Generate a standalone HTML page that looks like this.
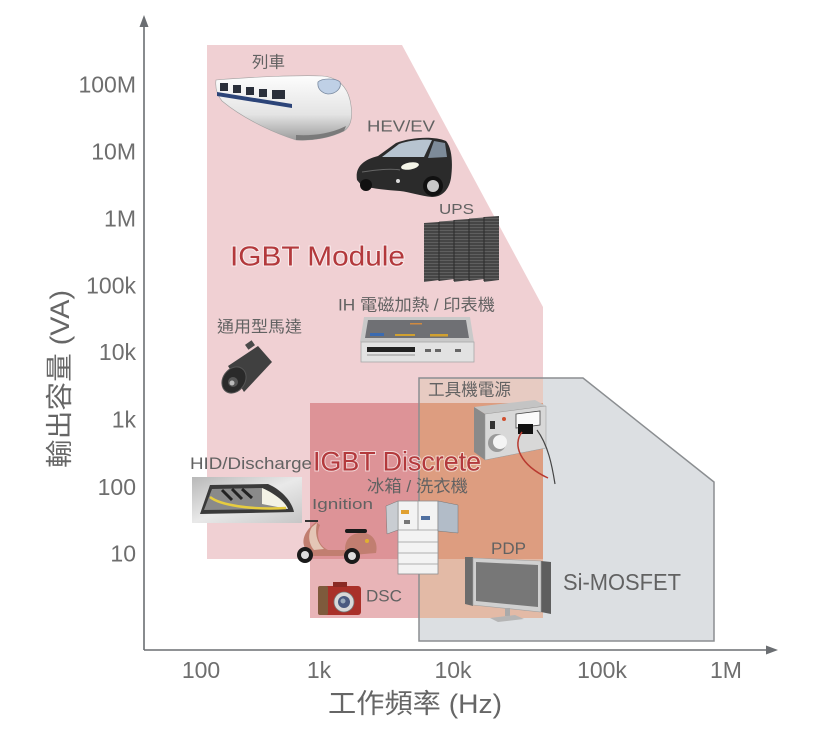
<!DOCTYPE html>
<html><head><meta charset="utf-8">
<style>html,body{margin:0;padding:0;background:#fff;width:813px;height:736px;overflow:hidden}</style>
</head><body>
<svg width="813" height="736" viewBox="0 0 813 736" xmlns="http://www.w3.org/2000/svg" font-family="'Liberation Sans','Noto Sans CJK TC',sans-serif">
<defs>
<linearGradient id="trainG" x1="0" y1="0" x2="0" y2="1"><stop offset="0" stop-color="#fdfdfd"/><stop offset="0.6" stop-color="#e4e4e4"/><stop offset="1" stop-color="#9c9c9c"/></linearGradient>
<linearGradient id="hidG" x1="0" y1="0" x2="1" y2="1"><stop offset="0" stop-color="#b8b8b8"/><stop offset="0.5" stop-color="#e9e9e9"/><stop offset="1" stop-color="#c6c6c6"/></linearGradient>
<pattern id="rack" width="4" height="3" patternUnits="userSpaceOnUse"><rect width="4" height="3" fill="#454545"/><rect y="2" width="4" height="1" fill="#5f5f5f"/></pattern>
</defs>

<!-- regions -->
<polygon points="419,378 583,378 714,482 714,641 419,641" fill="#dcdfe2"/>
<polygon points="207,45 402,45 543,307 543,559 207,559" fill="#f0d0d3"/>
<rect x="419" y="378" width="124" height="181" fill="#e7cbc2"/>
<rect x="310" y="403" width="109" height="156" fill="#dd9397"/>
<rect x="419" y="403" width="124" height="156" fill="#dd9d80"/>
<rect x="310" y="559" width="109" height="59" fill="#e8b4b7"/>
<rect x="419" y="559" width="124" height="59" fill="#e3baa6"/>
<polygon points="419,378 583,378 714,482 714,641 419,641" fill="none" stroke="#8b8e91" stroke-width="1.5"/>

<!-- axes -->
<line x1="144" y1="650" x2="144" y2="24" stroke="#6b6e72" stroke-width="1.6"/>
<polygon points="144,15 139.5,27 148.5,27" fill="#6b6e72"/>
<line x1="144" y1="650" x2="768" y2="650" stroke="#6b6e72" stroke-width="1.6"/>
<polygon points="778,650 766,645.5 766,654.5" fill="#6b6e72"/>

<!-- tick labels -->
<g font-size="23" fill="#6e6e6e" text-anchor="end">
<text x="136" y="92.5">100M</text>
<text x="136" y="159.5">10M</text>
<text x="136" y="226.5">1M</text>
<text x="136" y="293.5">100k</text>
<text x="136" y="360">10k</text>
<text x="136" y="427.5">1k</text>
<text x="136" y="495">100</text>
<text x="136" y="561.5">10</text>
</g>
<g font-size="23" fill="#6e6e6e" text-anchor="middle">
<text x="201" y="678">100</text>
<text x="319" y="678">1k</text>
<text x="453" y="678">10k</text>
<text x="602" y="678">100k</text>
<text x="726" y="678">1M</text>
</g>
<text x="328" y="713" font-size="27" fill="#666" textLength="174" lengthAdjust="spacingAndGlyphs">工作頻率 (Hz)</text>
<text transform="translate(69,379) rotate(-90)" x="-89" y="0" font-size="27" fill="#666" textLength="178" lengthAdjust="spacingAndGlyphs">輸出容量 (VA)</text>

<!-- train -->
<path d="M216,80 C250,77 300,75 322,76 C338,77 347,87 350,100 C353,114 352,126 344,131 C330,138 312,141 296,140 C268,131 240,116 222,101 C217,95 215,88 216,80 Z" fill="url(#trainG)" stroke="#a0a0a0" stroke-width="0.6"/>
<path d="M217,92 L292,104 L292,108 L217,96 Z" fill="#2c4478"/>
<rect x="220" y="83" width="8" height="8" fill="#2a2f3a"/>
<rect x="233" y="85" width="8" height="8" fill="#2a2f3a"/>
<rect x="246" y="87" width="8" height="8" fill="#2a2f3a"/>
<rect x="259" y="89" width="8" height="8" fill="#2a2f3a"/>
<rect x="272" y="90" width="13" height="9" fill="#2a2f3a"/>
<path d="M318,82 C322,78 336,78 340,82 C342,88 336,94 328,94 C321,93 317,88 318,82 Z" fill="#bfd0e6" stroke="#7a8aa0" stroke-width="0.8"/>
<path d="M296,140 C312,141 330,138 344,131 L346,126 C330,134 312,136 296,135 Z" fill="#7a7a7a"/>

<!-- car -->
<path d="M357,180 C355,168 362,160 378,156 L396,143 C412,137 434,136 446,141 C452,148 453,163 451,178 C449,190 442,197 432,197 C420,196 410,192 400,191 C385,190 370,188 362,186 Z" fill="#2b2b2b"/>
<path d="M382,157 L399,144 C410,140 425,139 432,140 L424,157 Z" fill="#b7c4d0"/>
<path d="M434,141 L445,143 L447,157 L428,158 Z" fill="#7d8b99"/>
<ellipse cx="410" cy="166" rx="9" ry="3.5" fill="#f5f5e8" transform="rotate(-10 410 166)"/>
<circle cx="398" cy="181" r="2" fill="#ddd"/>
<path d="M362,172 C375,170 390,168 400,170" stroke="#666" stroke-width="1" fill="none"/>
<circle cx="433" cy="186" r="10" fill="#111"/><circle cx="433" cy="186" r="6" fill="#c8c8c8"/>
<circle cx="366" cy="185" r="6" fill="#111"/>

<!-- UPS -->
<polygon points="424,223 439,222 439,280 424,282" fill="url(#rack)"/>
<polygon points="439,221.5 454,220.5 454,279 439,281" fill="url(#rack)"/>
<polygon points="454,220 469,219 469,280 454,282" fill="url(#rack)"/>
<polygon points="469,218.5 484,217.5 484,279 469,281" fill="url(#rack)"/>
<polygon points="484,217 499,216 499,280 484,282" fill="url(#rack)"/>
<g stroke="#2a2a2a" stroke-width="1"><line x1="439" y1="222" x2="439" y2="281"/><line x1="454" y1="220" x2="454" y2="281"/><line x1="469" y1="219" x2="469" y2="281"/><line x1="484" y1="217" x2="484" y2="281"/></g>

<!-- IH -->
<polygon points="364,317 470,317 474,342 360,342" fill="#c9c9c9"/>
<polygon points="368,320 466,320 469,338 365,338" fill="#6f7074"/>
<rect x="370" y="333" width="14" height="3" fill="#3a6ab0"/>
<rect x="395" y="334" width="20" height="2" fill="#d0a030"/>
<rect x="430" y="334" width="18" height="2.5" fill="#d0a030"/>
<rect x="410" y="323" width="12" height="1.5" fill="#d08a40"/>
<rect x="361" y="342" width="113" height="20" fill="#e2e2e2" stroke="#a8a8a8" stroke-width="0.8"/>
<rect x="367" y="347" width="48" height="5" fill="#222"/>
<rect x="367" y="354" width="48" height="2" fill="#bbb"/>
<rect x="425" y="349" width="6" height="3" fill="#666"/><rect x="435" y="349" width="6" height="3" fill="#666"/><rect x="455" y="349" width="6" height="3" fill="#666"/>

<!-- motor -->
<polygon points="228,366 258,346 272,362 244,392" fill="#404040"/>
<rect x="246" y="342" width="8" height="6" fill="#4a4a4a" transform="rotate(-35 250 345)"/>
<ellipse cx="234" cy="380" rx="11" ry="14" fill="#2a2a2a" stroke="#555" transform="rotate(35 234 380)"/>
<circle cx="233" cy="382" r="5" fill="#555"/>
<circle cx="232" cy="383" r="2.5" fill="#bbb"/>

<!-- power supply -->
<polygon points="474,407 535,400 546,406 485,414" fill="#c4c4c4"/>
<polygon points="474,407 485,414 485,460 474,452" fill="#8a8a8a"/>
<polygon points="485,414 546,406 546,448 485,460" fill="#d8d8d8" stroke="#999" stroke-width="0.5"/>
<polygon points="516,414 540,411 540,425 516,428" fill="#fafafa" stroke="#444" stroke-width="0.8"/>
<rect x="518" y="424" width="15" height="10" fill="#111"/>
<rect x="490" y="421" width="5" height="8" fill="#333"/>
<circle cx="504" cy="419" r="2" fill="#d05030"/>
<circle cx="497" cy="443" r="9" fill="#9a9a9a"/><circle cx="500" cy="442" r="7" fill="#f4f4f4"/>
<path d="M522,432 C512,445 520,465 548,478" stroke="#b83a30" stroke-width="1.5" fill="none"/>
<path d="M537,430 C548,445 552,465 555,484" stroke="#444" stroke-width="1.2" fill="none"/>

<!-- HID -->
<rect x="192" y="477" width="110" height="46" fill="url(#hidG)"/>
<path d="M200,514 L210,485 L268,484 C282,490 292,502 294,512 Z" fill="#3a3a3a"/>
<path d="M204,510 L212,489 L262,488 C276,494 286,503 288,509 Z" fill="#8a8a8a"/>
<path d="M262,488 C276,494 286,503 288,509 L262,504 Z" fill="#f3f2e6"/>
<path d="M222,490 L232,500 M232,489 L242,499 M242,489 L252,498" stroke="#222" stroke-width="3"/>
<path d="M210,497 C220,505 250,510 286,508" stroke="#e6cc40" stroke-width="2.5" fill="none"/>

<!-- scooter -->
<path d="M305,548 C300,538 308,528 316,522 L320,525 C316,535 318,545 328,550 L345,550 C345,538 352,532 365,533 C375,535 378,545 376,553 L340,556 L312,556 Z" fill="#c17e70"/>
<path d="M312,527 L317,523 C315,532 316,542 324,549 L314,550 C308,543 308,533 312,527 Z" fill="#e4c6b6"/>
<rect x="345" y="529" width="22" height="4" rx="2" fill="#1a1a1a"/>
<path d="M305,521 L318,521" stroke="#333" stroke-width="2"/>
<circle cx="367" cy="541" r="2" fill="#e0b030"/>
<circle cx="305" cy="555" r="8" fill="#1a1a1a"/><circle cx="305" cy="555" r="4" fill="#ddd"/>
<circle cx="352" cy="556" r="8" fill="#1a1a1a"/><circle cx="352" cy="556" r="4" fill="#ddd"/>

<!-- fridge -->
<rect x="398" y="501" width="40" height="73" fill="#f3f3f3" stroke="#8e8e8e" stroke-width="0.8"/>
<g stroke="#999" stroke-width="0.8"><line x1="398" y1="530" x2="438" y2="530"/><line x1="398" y1="542" x2="438" y2="542"/><line x1="398" y1="553" x2="438" y2="553"/><line x1="398" y1="564" x2="438" y2="564"/><line x1="418" y1="501" x2="418" y2="530"/></g>
<rect x="401" y="510" width="8" height="4" fill="#e0a030"/><rect x="421" y="516" width="9" height="4" fill="#5070a0"/><rect x="404" y="520" width="6" height="4" fill="#777"/>
<polygon points="386,506 398,501 398,530 387,534" fill="#c9cdd2" stroke="#777" stroke-width="0.5"/>
<polygon points="438,501 458,505 458,533 438,531" fill="#b2bcc8" stroke="#777" stroke-width="0.5"/>

<!-- camera -->
<rect x="318" y="586" width="43" height="29" rx="3" fill="#a93029"/>
<rect x="318" y="586" width="10" height="29" rx="2" fill="#7e5a3c"/>
<rect x="333" y="582" width="14" height="5" fill="#8a2a24"/>
<circle cx="344" cy="602" r="10" fill="#d8d8d8" stroke="#777" stroke-width="0.8"/>
<circle cx="344" cy="602" r="6" fill="#4a5a80"/>
<circle cx="343" cy="601" r="2.5" fill="#9ab"/>

<!-- TV -->
<polygon points="465,557 473,557 473,606 465,604" fill="#6c6c6c"/>
<polygon points="541,561 551,562 551,614 541,612" fill="#5e5e5e"/>
<polygon points="473,558 541,561 541,612 473,605" fill="#d0d0d0" stroke="#a0a0a0" stroke-width="0.6"/>
<polygon points="476,562 538,565 538,607 476,601" fill="#777"/>
<rect x="505" y="608" width="5" height="8" fill="#aaa"/>
<polygon points="490,618 515,615 524,619 498,622" fill="#b5b5b5"/>

<!-- labels -->
<g fill="#626262">
<text x="252" y="67.5" font-size="16" textLength="33" lengthAdjust="spacingAndGlyphs">列車</text>
<text x="367" y="131.5" font-size="16" textLength="68" lengthAdjust="spacingAndGlyphs">HEV/EV</text>
<text x="439" y="214" font-size="15" textLength="35" lengthAdjust="spacingAndGlyphs">UPS</text>
<text x="338" y="310.5" font-size="16.5" textLength="157" lengthAdjust="spacingAndGlyphs">IH 電磁加熱 / 印表機</text>
<text x="217" y="332" font-size="16" textLength="85" lengthAdjust="spacingAndGlyphs">通用型馬達</text>
<text x="428" y="395.5" font-size="17" textLength="83" lengthAdjust="spacingAndGlyphs">工具機電源</text>
<text x="190" y="469" font-size="16.5" textLength="122" lengthAdjust="spacingAndGlyphs">HID/Discharge</text>
<text x="367" y="492" font-size="17" textLength="101" lengthAdjust="spacingAndGlyphs">冰箱 / 洗衣機</text>
<text x="312" y="509" font-size="15" textLength="61" lengthAdjust="spacingAndGlyphs">Ignition</text>
<text x="366" y="601.5" font-size="17" textLength="36" lengthAdjust="spacingAndGlyphs">DSC</text>
<text x="491" y="554" font-size="17" textLength="35" lengthAdjust="spacingAndGlyphs">PDP</text>
<text x="563" y="590" font-size="23" textLength="118" lengthAdjust="spacingAndGlyphs">Si-MOSFET</text>
</g>
<g fill="#b3393c" stroke="rgba(255,255,255,0.6)" stroke-width="2" paint-order="stroke">
<text x="230" y="265.5" font-size="28" textLength="175" lengthAdjust="spacingAndGlyphs">IGBT Module</text>
<text x="313" y="470.5" font-size="27" textLength="168" lengthAdjust="spacingAndGlyphs">IGBT Discrete</text>
</g>
</svg>
</body></html>
